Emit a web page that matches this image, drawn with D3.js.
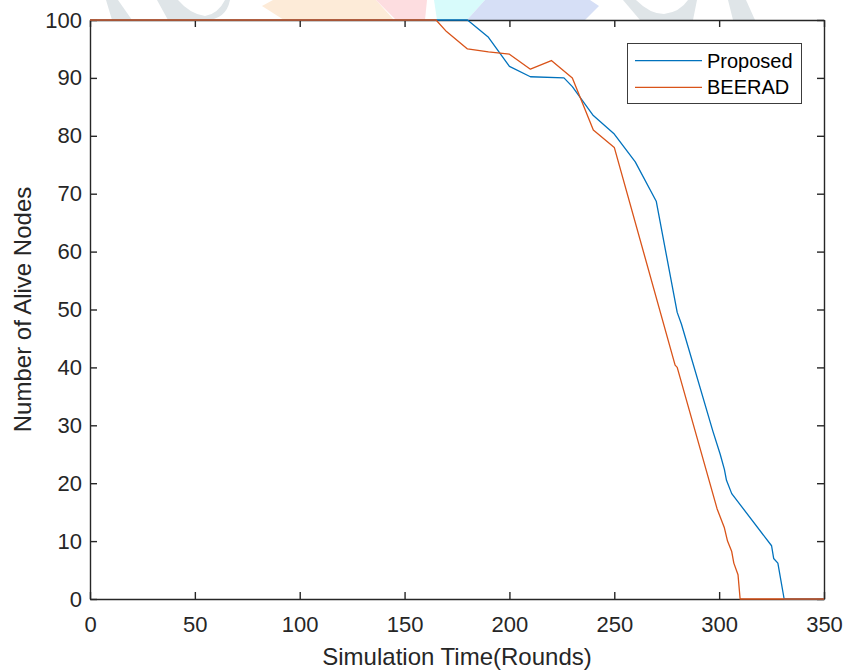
<!DOCTYPE html>
<html>
<head>
<meta charset="utf-8">
<script src="https://cdn.jsdelivr.net/npm/d3@7"></script>
<style>
  body { margin: 0; background: #fff; }
  svg { display: block; font-family: "Liberation Sans", Arial, sans-serif; }
  .axis path, .axis line { stroke: #262626; stroke-width: 1.4; }
  .axis text { fill: #262626; font-size: 22px; }
</style>
</head>
<body>
<div id="chart"></div>
<script>
// Number of alive nodes over simulation rounds
var proposedRounds = [0, 180, 190, 200, 210, 226, 230, 240, 250, 260, 270, 280, 282, 297, 300.5, 302.5, 303.5, 306, 325, 326, 328, 331, 350];
var proposedAlive  = [100, 100, 97, 92, 90.2, 90, 88.5, 83.5, 80.3, 75.5, 68.7, 49.5, 47.5, 29, 25, 22.4, 20.5, 18.2, 9.2, 7, 6.2, 0, 0];

var beeradRounds = [0, 165, 170, 180, 190, 200, 210, 220, 230, 240, 250, 279, 280, 299, 302.5, 304, 306, 307, 309, 310, 350];
var beeradAlive  = [100, 100, 98, 95, 94.5, 94.1, 91.5, 93, 90, 81, 78, 40.4, 40, 15.6, 12.3, 10, 8.2, 6.2, 4.2, 0, 0];

var xTicks = [0, 50, 100, 150, 200, 250, 300, 350];
var yTicks = [0, 10, 20, 30, 40, 50, 60, 70, 80, 90, 100];

var seriesNames = ["Proposed", "BEERAD"];
var seriesColors = ["#0072BD", "#D95319"];

var width = 845, height = 670,
    margin = {left: 90, right: 21, top: 20, bottom: 71};

var x = d3.scaleLinear().domain([0, 350]).range([margin.left, width - margin.right]);
var y = d3.scaleLinear().domain([0, 100]).range([height - margin.bottom, margin.top]);

var svg = d3.select("#chart").append("svg")
    .attr("width", width)
    .attr("height", height);

// faint watermark shapes peeking out above the axes
var wm = svg.append("g").attr("class", "watermark");
wm.append("path").attr("fill", "#dfe5e8").attr("d", "M106,0 L118,0 L132,20 L112,20 Z");
wm.append("path").attr("fill", "#dfe5e8").attr("d", "M157,0 L178,0 Q190,14 205,16 Q218,14 225,0 L230,0 Q226,20 205,20 L168,20 Z");
wm.append("path").attr("fill", "#fdebd8").attr("d", "M273,0 L376,0 L394,20 L284,20 L262,6 Z");
wm.append("path").attr("fill", "#fddde0").attr("d", "M376,0 L427,0 L425,20 L396,20 Z");
wm.append("path").attr("fill", "#d8fbfb").attr("d", "M434,0 L485,0 L467,20 L437,20 Z");
wm.append("path").attr("fill", "#d6dff6").attr("d", "M485,0 L590,0 L599,6 L585,20 L467,20 Z");
wm.append("path").attr("fill", "#dfe5e8").attr("d", "M623,0 L636,0 Q650,14 664,14 Q680,12 688,0 L697,0 L693,20 L640,20 Z");
wm.append("path").attr("fill", "#dfe5e8").attr("d", "M728,0 L746,0 L755,20 L733,20 Z");

svg.append("rect")
    .attr("x", margin.left).attr("y", margin.top)
    .attr("width", x(350) - x(0)).attr("height", y(0) - y(100))
    .attr("fill", "#fff");

// box axes with inward ticks, like MATLAB's "box on"
svg.append("g").attr("class", "axis")
    .attr("transform", "translate(0," + y(0) + ")")
    .call(d3.axisBottom(x).tickValues(xTicks).tickSizeInner(-7).tickSizeOuter(0).tickPadding(17));
svg.append("g").attr("class", "axis")
    .attr("transform", "translate(0," + y(100) + ")")
    .call(d3.axisTop(x).tickValues(xTicks).tickSizeInner(-7).tickSizeOuter(0).tickFormat(""));
svg.append("g").attr("class", "axis")
    .attr("transform", "translate(" + x(0) + ",0)")
    .call(d3.axisLeft(y).tickValues(yTicks).tickSizeInner(-7).tickSizeOuter(0).tickPadding(8));
svg.append("g").attr("class", "axis")
    .attr("transform", "translate(" + x(350) + ",0)")
    .call(d3.axisRight(y).tickValues(yTicks).tickSizeInner(-7).tickSizeOuter(0).tickFormat(""));

svg.selectAll(".axis .domain").attr("stroke-width", 1.4);

var line = d3.line()
    .x(function(d) { return x(d[0]); })
    .y(function(d) { return y(d[1]); });

var series = [
    d3.zip(proposedRounds, proposedAlive),
    d3.zip(beeradRounds, beeradAlive)
];

svg.append("g").selectAll("path")
    .data(series)
    .enter().append("path")
        .attr("fill", "none")
        .attr("stroke", function(d, i) { return seriesColors[i]; })
        .attr("stroke-width", 1.3)
        .attr("stroke-linejoin", "round")
        .attr("d", line);

// axis titles
svg.append("text")
    .attr("x", (x(0) + x(350)) / 2)
    .attr("y", 665)
    .attr("text-anchor", "middle")
    .attr("fill", "#262626")
    .style("font-size", "24px")
    .text("Simulation Time(Rounds)");

svg.append("text")
    .attr("transform", "translate(31," + ((y(0) + y(100)) / 2) + ")rotate(-90)")
    .attr("text-anchor", "middle")
    .attr("fill", "#262626")
    .style("font-size", "24px")
    .text("Number of Alive Nodes");

// legend
var legend = svg.append("g").attr("class", "legend");
legend.append("rect")
    .attr("x", 627.5).attr("y", 43.5)
    .attr("width", 174).attr("height", 60)
    .attr("fill", "#fff")
    .attr("stroke", "#3c3c3c")
    .attr("stroke-width", 1);

var legendRows = legend.selectAll(".row")
    .data(seriesNames)
    .enter().append("g")
        .attr("class", "row")
        .attr("transform", function(d, i) { return "translate(0," + (60.7 + i * 26.6) + ")"; });

legendRows.append("line")
    .attr("x1", 635).attr("x2", 702)
    .attr("stroke", function(d, i) { return seriesColors[i]; })
    .attr("stroke-width", 1.3);

legendRows.append("text")
    .attr("x", 707)
    .attr("dy", "0.35em")
    .attr("fill", "#000")
    .style("font-size", "20px")
    .text(function(d) { return d; });
</script>
</body>
</html>
